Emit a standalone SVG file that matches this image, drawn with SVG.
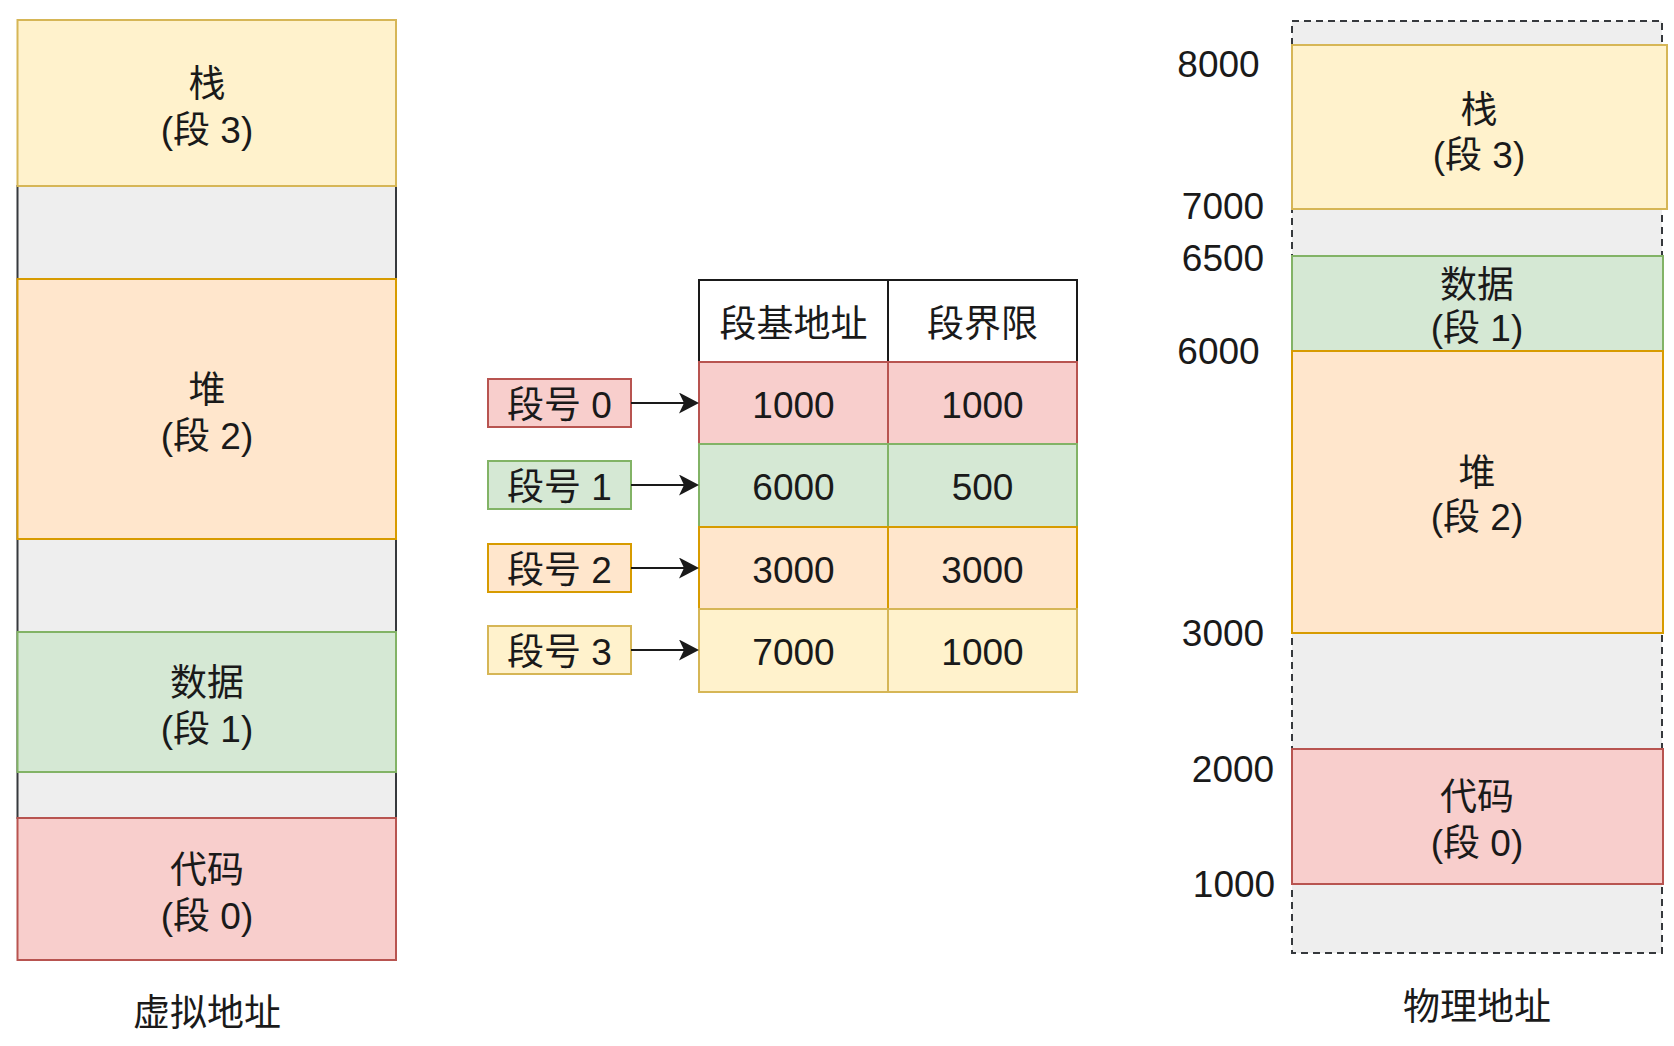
<svg xmlns="http://www.w3.org/2000/svg" width="1674" height="1046" viewBox="0 0 1674 1046">
  <style>
    text { font-family: "Liberation Sans", "Noto Sans CJK SC", sans-serif; font-size: 37px; fill: #1a1a1a; text-anchor: middle; dominant-baseline: central; }
    .yellow { fill: #fff2cc; stroke: #d6b656; stroke-width: 2; }
    .orange { fill: #ffe6cc; stroke: #d79b00; stroke-width: 2; }
    .green { fill: #d5e8d4; stroke: #82b366; stroke-width: 2; }
    .red { fill: #f8cecc; stroke: #b85450; stroke-width: 2; }
    .gray { fill: #eeeeee; stroke: #36393d; stroke-width: 2; }
    .grayDash { fill: #eeeeee; stroke: #36393d; stroke-width: 2; stroke-dasharray: 7 5; }
    .head { fill: #ffffff; stroke: #1a1a1a; stroke-width: 2; }
    .conn { stroke: #1a1a1a; stroke-width: 2; fill: none; marker-end: url(#arrow); }
  </style>
  <defs>
    <marker id="arrow" markerUnits="userSpaceOnUse" viewBox="0 0 20 21" refX="10" refY="10.5" markerWidth="20" markerHeight="21" orient="auto">
      <path d="M0,0 L20,10.5 L0,21 L5,10.5 Z" fill="#1a1a1a"/>
    </marker>
  </defs>
  <rect width="1674" height="1046" fill="#ffffff"/>

  <!-- Virtual address space -->
  <g id="virtual">
    <rect id="v-bg" class="gray" x="17.5" y="186" width="378.5" height="632"/>
    <g id="v-stack">
      <rect class="yellow" x="17.5" y="20" width="378.5" height="166"/>
      <text x="207" y="84">栈</text>
      <text x="207" y="130">(段 3)</text>
    </g>
    <g id="v-heap">
      <rect class="orange" x="17.5" y="279" width="378.5" height="260"/>
      <text x="207" y="390">堆</text>
      <text x="207" y="436">(段 2)</text>
    </g>
    <g id="v-data">
      <rect class="green" x="17.5" y="632" width="378.5" height="140"/>
      <text x="207" y="683">数据</text>
      <text x="207" y="729">(段 1)</text>
    </g>
    <g id="v-code">
      <rect class="red" x="17.5" y="818" width="378.5" height="142"/>
      <text x="207" y="870">代码</text>
      <text x="207" y="916">(段 0)</text>
    </g>
    <text id="v-title" x="207" y="1013">虚拟地址</text>
  </g>

  <!-- Segment number labels -->
  <g id="seg0">
    <rect class="red" x="488" y="379" width="143" height="48"/>
    <text x="559.5" y="405">段号 0</text>
  </g>
  <g id="seg1">
    <rect class="green" x="488" y="461" width="143" height="48"/>
    <text x="559.5" y="487">段号 1</text>
  </g>
  <g id="seg2">
    <rect class="orange" x="488" y="544" width="143" height="48"/>
    <text x="559.5" y="570">段号 2</text>
  </g>
  <g id="seg3">
    <rect class="yellow" x="488" y="626" width="143" height="48"/>
    <text x="559.5" y="652">段号 3</text>
  </g>

  <!-- Segment table -->
  <g id="table">
    <g id="table-header">
      <rect class="head" x="699" y="280" width="189" height="82"/>
      <rect class="head" x="888" y="280" width="189" height="82"/>
      <text x="793.5" y="324">段基地址</text>
      <text x="982.5" y="324">段界限</text>
    </g>
    <g id="row0">
      <rect class="red" x="699" y="362" width="189" height="82"/>
      <rect class="red" x="888" y="362" width="189" height="82"/>
      <text x="793.5" y="405">1000</text>
      <text x="982.5" y="405">1000</text>
    </g>
    <g id="row1">
      <rect class="green" x="699" y="444" width="189" height="83"/>
      <rect class="green" x="888" y="444" width="189" height="83"/>
      <text x="793.5" y="487">6000</text>
      <text x="982.5" y="487">500</text>
    </g>
    <g id="row2">
      <rect class="orange" x="699" y="527" width="189" height="82"/>
      <rect class="orange" x="888" y="527" width="189" height="82"/>
      <text x="793.5" y="570">3000</text>
      <text x="982.5" y="570">3000</text>
    </g>
    <g id="row3">
      <rect class="yellow" x="699" y="609" width="189" height="83"/>
      <rect class="yellow" x="888" y="609" width="189" height="83"/>
      <text x="793.5" y="652">7000</text>
      <text x="982.5" y="652">1000</text>
    </g>
  </g>

  <!-- Connectors -->
  <g id="connectors">
    <line class="conn" x1="631" y1="403" x2="689" y2="403"/>
    <line class="conn" x1="631" y1="485" x2="689" y2="485"/>
    <line class="conn" x1="631" y1="568" x2="689" y2="568"/>
    <line class="conn" x1="631" y1="650" x2="689" y2="650"/>
  </g>

  <!-- Physical address space -->
  <g id="physical">
    <rect id="p-bg" class="grayDash" x="1292" y="21" width="370" height="932"/>
    <g id="p-stack">
      <rect class="yellow" x="1292" y="45" width="375" height="164"/>
      <text x="1479" y="110">栈</text>
      <text x="1479" y="155">(段 3)</text>
    </g>
    <g id="p-data">
      <rect class="green" x="1292" y="256" width="371" height="95"/>
      <text x="1477" y="285">数据</text>
      <text x="1477" y="328">(段 1)</text>
    </g>
    <g id="p-heap">
      <rect class="orange" x="1292" y="351" width="371" height="282"/>
      <text x="1477" y="473">堆</text>
      <text x="1477" y="517">(段 2)</text>
    </g>
    <g id="p-code">
      <rect class="red" x="1292" y="749" width="371" height="135"/>
      <text x="1477" y="797">代码</text>
      <text x="1477" y="843">(段 0)</text>
    </g>
    <g id="p-addresses">
      <text x="1218.5" y="64">8000</text>
      <text x="1223" y="206">7000</text>
      <text x="1223" y="258">6500</text>
      <text x="1218.5" y="351">6000</text>
      <text x="1223" y="633">3000</text>
      <text x="1233" y="769">2000</text>
      <text x="1234" y="884">1000</text>
    </g>
    <text id="p-title" x="1477" y="1007">物理地址</text>
  </g>
</svg>
